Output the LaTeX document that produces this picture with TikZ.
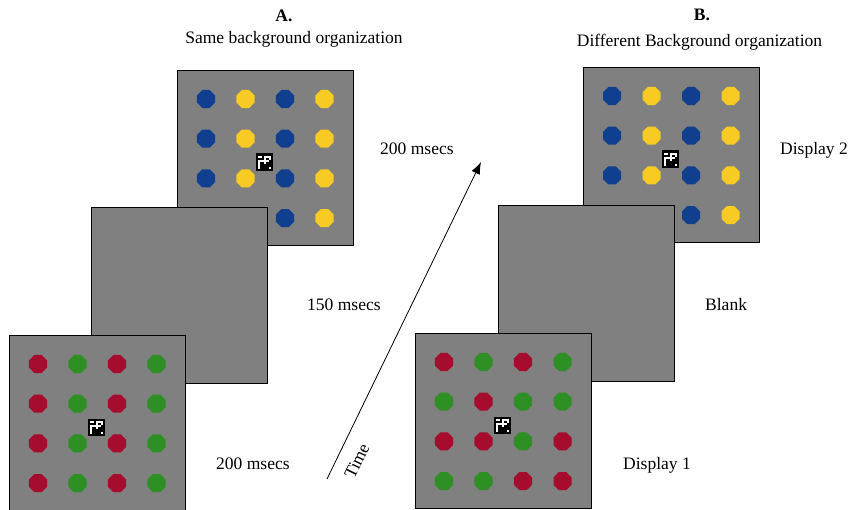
\documentclass[tikz,border=0pt]{standalone}
\usepackage{fontspec}
\setmainfont{Liberation Serif}
\usetikzlibrary{shapes.geometric,arrows.meta}
\definecolor{dblue}{RGB}{16,63,143}
\definecolor{dyell}{RGB}{247,202,36}
\definecolor{dred}{RGB}{166,12,45}
\definecolor{dgreen}{RGB}{46,143,36}
\definecolor{pgray}{RGB}{128,128,128}
\tikzset{
  panelbox/.style={fill=pgray,draw=black,line width=1pt},
  dot/.style={regular polygon,regular polygon sides=8,minimum size=19.5pt,inner sep=0pt,draw=none,fill=#1},
  lbl/.style={font=\fontsize{17.5}{20}\selectfont,inner sep=0pt,anchor=base west},
  head/.style={font=\fontsize{17.5}{20}\selectfont,inner sep=0pt,anchor=base},
  timearrow/.style={line width=0.8pt,-{Latex[length=12pt,width=9pt]}},
}
\newcommand\drawdots[1]{%
  \foreach \row [count=\i] in {#1} {
    \foreach \c [count=\j] in \row {
      \node[dot=\c] at ({29+39.5*(\j-1)},{28+39.7*(\i-1)}) {};
    }
  }%
}
\newcommand\drawtarget{%
  \fill[black] (78.5,82.5) rectangle ++(17.5,17.5);
  \foreach \cx/\cy in {1/1,2/1,4/1,5/1,6/1,4/2,6/2,1/3,2/3,3/3,4/3,5/3,1/4,4/4,1/5,1/6,6/6} {
    \fill[white] ({78.5+2.1875*\cx},{82.5+2.1875*\cy}) rectangle ++(2.1875,2.1875);
  }%
}
\begin{document}
\begin{tikzpicture}[x=1pt,y=-1pt]
\useasboundingbox (0,0) rectangle (851,510);
% ---- Column A ----
\begin{scope}[shift={(177,71)}]
  \draw[panelbox] (0,0) rectangle (176,175);
  \drawdots{{dblue,dyell,dblue,dyell},{dblue,dyell,dblue,dyell},{dblue,dyell,dblue,dyell},{dblue,dyell,dblue,dyell}}
  \drawtarget
\end{scope}
\begin{scope}[shift={(91,208)}]
  \draw[panelbox] (0,0) rectangle (176,175);
\end{scope}
\begin{scope}[shift={(9,336)}]
  \draw[panelbox] (0,0) rectangle (176,175);
  \drawdots{{dred,dgreen,dred,dgreen},{dred,dgreen,dred,dgreen},{dred,dgreen,dred,dgreen},{dred,dgreen,dred,dgreen}}
  \drawtarget
\end{scope}
% ---- Column B ----
\begin{scope}[shift={(583,68)}]
  \draw[panelbox] (0,0) rectangle (176,175);
  \drawdots{{dblue,dyell,dblue,dyell},{dblue,dyell,dblue,dyell},{dblue,dyell,dblue,dyell},{dblue,dyell,dblue,dyell}}
  \drawtarget
\end{scope}
\begin{scope}[shift={(498,206)}]
  \draw[panelbox] (0,0) rectangle (176,175);
\end{scope}
\begin{scope}[shift={(415,334)}]
  \draw[panelbox] (0,0) rectangle (176,174);
  \drawdots{{dred,dgreen,dred,dgreen},{dgreen,dred,dgreen,dgreen},{dred,dred,dgreen,dred},{dgreen,dgreen,dred,dred}}
  \drawtarget
\end{scope}
% ---- Headings ----
\node[head,font=\fontsize{17.5}{20}\selectfont\bfseries] (ha) at (284,22) {A.};
\node[head] (hsa) at (294,44) {Same background organization};
\node[head,font=\fontsize{17.5}{20}\selectfont\bfseries] (hb) at (702,21) {B.};
\node[head] (hsb) at (699.5,47) {Different Background organization};
% ---- Labels ----
\node[lbl] (t1) at (380,155) {200 msecs};
\node[lbl] (t2) at (307,311) {150 msecs};
\node[lbl] (t3) at (216,469) {200 msecs};
\node[lbl] (d2) at (780,155) {Display 2};
\node[lbl] (bl) at (705,311) {Blank};
\node[lbl] (d1) at (623,469) {Display 1};
% ---- Time arrow ----
\coordinate (tstart) at (327,479);
\coordinate (tend) at (481,162);
\draw[timearrow] (tstart) -- (tend);
\node[font=\fontsize{17.5}{20}\selectfont,inner sep=0pt,rotate=64] (time) at (357,461) {Time};
\end{tikzpicture}
\end{document}
